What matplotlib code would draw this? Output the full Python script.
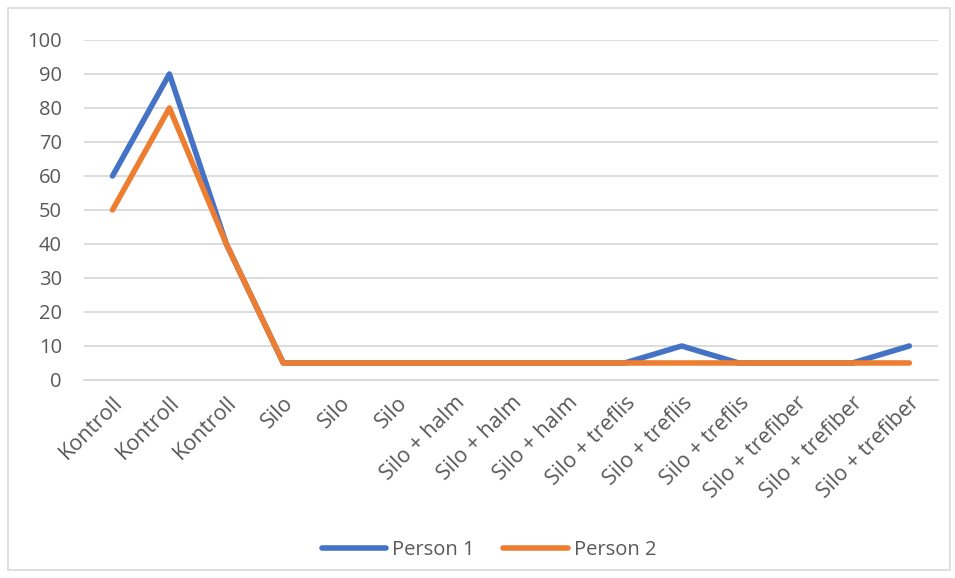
import matplotlib.pyplot as plt
from matplotlib.patches import Rectangle

plt.rcParams['font.family'] = ['Open Sans', 'DejaVu Sans']

# categories along the x axis
labels = ['Kontroll', 'Kontroll', 'Kontroll',
          'Silo', 'Silo', 'Silo',
          'Silo + halm', 'Silo + halm', 'Silo + halm',
          'Silo + treflis', 'Silo + treflis', 'Silo + treflis',
          'Silo + trefiber', 'Silo + trefiber', 'Silo + trefiber']

person1 = [60, 90, 40, 5, 5, 5, 5, 5, 5, 5, 10, 5, 5, 5, 10]
person2 = [50, 80, 40, 5, 5, 5, 5, 5, 5, 5, 5, 5, 5, 5, 5]

yticks = list(range(0, 101, 10))

blue = '#4472C4'
orange = '#ED7D31'
text_col = '#595959'
grid_col = '#D9D9D9'

fig = plt.figure(figsize=(9.55, 5.78), dpi=100)
ax = fig.add_axes([0.088, 0.3426, 0.894, 0.5882])

x = range(len(labels))
ax.plot(x, person1, color=blue, lw=4, solid_capstyle='round', label='Person 1', zorder=3)
ax.plot(x, person2, color=orange, lw=4, solid_capstyle='round', label='Person 2', zorder=4)

ax.set_xlim(-0.5, len(labels) - 0.5)
ax.set_ylim(0, 100)
ax.set_yticks(yticks)
ax.set_xticks(list(x))
ax.set_xticklabels(labels, rotation=45, ha='right', rotation_mode='anchor')

ax.grid(axis='y', color=grid_col, lw=1.3)
ax.set_axisbelow(True)
for s in ax.spines.values():
    s.set_visible(False)
ax.spines['bottom'].set_visible(True)
ax.spines['bottom'].set_color(grid_col)
ax.spines['bottom'].set_linewidth(1.3)
ax.tick_params(axis='y', length=0, labelsize=14.5, colors=text_col, pad=16)
ax.tick_params(axis='x', length=0, labelsize=15.5, colors=text_col, pad=9)

leg = fig.legend(loc='center', bbox_to_anchor=(0.512, 0.049), ncol=2, frameon=False,
                 fontsize=14.5, handlelength=3.2, handletextpad=0.3, columnspacing=1.4)
for t in leg.get_texts():
    t.set_color(text_col)

# light border around the chart
fig.patches.append(Rectangle((8 / 955, 8 / 578), 942 / 955, 562 / 578,
                             transform=fig.transFigure, fill=False,
                             edgecolor='#D9D9D9', lw=1.2))

fig.savefig('out.png', dpi=100)
